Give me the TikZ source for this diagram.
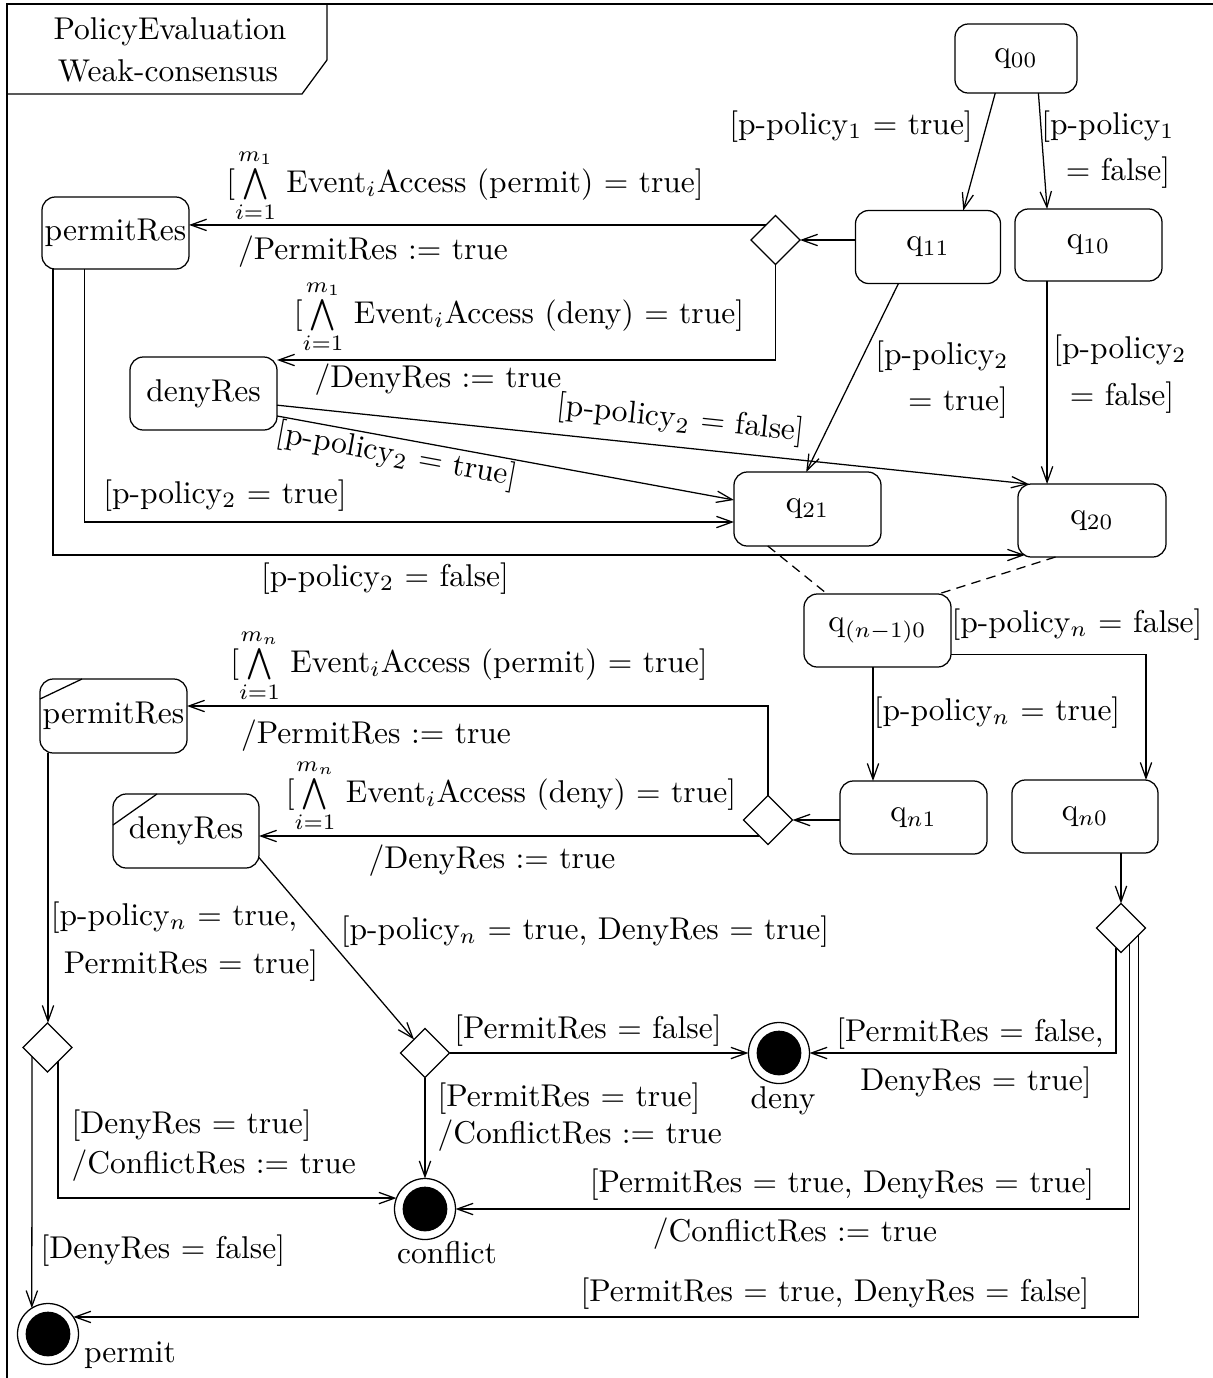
\documentclass[tikz,border=0pt]{standalone}
\usetikzlibrary{arrows.meta,shapes.geometric,calc}
\begin{document}
\begin{tikzpicture}[x=0.3175pt,y=-0.3175pt,
  stbox/.style={draw, rounded corners=4.2pt, inner sep=0pt, outer sep=0pt},
  sz/.style 2 args={minimum width=#1*0.3175pt, minimum height=#2*0.3175pt},
  dia/.style={draw, diamond, inner sep=0pt, outer sep=0pt, minimum size=49*0.3175pt},
  fin/.style={draw, circle, inner sep=0pt, outer sep=0pt, minimum size=61*0.3175pt,
    path picture={\fill[black] (path picture bounding box.center) circle[radius=7.1pt];}},
  arr/.style={-{Straight Barb[length=5pt,width=3.6pt]}},
  lab/.style={anchor=base, inner sep=0pt},
  labw/.style={anchor=base west, inner sep=0pt}]
\useasboundingbox (0,0) rectangle (1213,1378);
% frame
\draw (1213,4) -- (7,4) -- (7,1378);
\draw (327,4) -- (327,60) -- (302,94) -- (7,94);
\node[lab] (t1) at (170,39) {PolicyEvaluation};
\node[lab] (t2) at (168,81) {Weak-consensus};
% states
\node[stbox, sz={122}{69}] (q00) at (1016,58.5) {q$_{00}$};
\node[stbox, sz={145}{73}] (q11) at (928,247) {q$_{11}$};
\node[stbox, sz={147}{72}] (q10) at (1088.5,245) {q$_{10}$};
\node[stbox, sz={147}{72}] (permitResA) at (115.5,233) {permitRes};
\node[stbox, sz={147}{73}] (denyResA) at (203.5,393.5) {denyRes};
\node[stbox, sz={147}{74}] (q21) at (807.5,509) {q$_{21}$};
\node[stbox, sz={148}{73}] (q20) at (1092,520.5) {q$_{20}$};
\node[stbox, sz={147}{73}] (qn10) at (877.5,630.5) {q$_{(n-1)0}$};
\node[stbox, sz={147}{74}] (permitResB) at (113.5,716) {permitRes};
\node[stbox, sz={146}{74}] (denyResB) at (186,831) {denyRes};
\node[stbox, sz={147}{73}] (qn1) at (913.5,817.5) {q$_{n1}$};
\node[stbox, sz={146}{73}] (qn0) at (1085,816.5) {q$_{n0}$};
\draw ($(permitResB.north west)+(0,20)$) -- ($(permitResB.north west)+(42,0)$);
\draw ($(denyResB.north west)+(0,31)$) -- ($(denyResB.north west)+(44,0)$);
% diamonds
\node[dia] (d1) at (775.5,240) {};
\node[dia] (d2) at (768,820) {};
\node[dia] (d3) at (1121,928) {};
\node[dia] (d4) at (47.5,1047.5) {};
\node[dia] (d5) at (425,1053) {};
% final states
\node[fin] (deny) at (779,1053) {};
\node[fin] (conflict) at (425,1209) {};
\node[fin] (permit) at (48,1334) {};
\node[lab] (l24) at (783,1108) {deny};
\node[lab] (l27) at (447,1263) {conflict};
\node[lab] (l30) at (130,1362) {permit};
% connectors
\draw[arr] (q00.-121) -- (q11.46);
\draw[arr] (q00.-57) -- (q10.139);
\draw[arr] (q11.west |- d1.east) -- (d1.east);
\draw[arr] (d1.122) -- (d1.122 -| permitResA.east);
\draw[arr] (d1.south) |- ($(denyResA.north east)+(0,3)$);
\draw[arr] (q11.-129) -- (q21.92);
\draw[arr] (q10.-139) -- (q10.-139 |- q20.north);
\draw[arr] (denyResA.-9) -- (q20.150);
\draw[arr] (denyResA.-17) -- (q21.173);
\coordinate (pa1) at ($(permitResA.south)+(-31,0)$);
\draw[arr] (pa1) |- ($(q21.west)+(0,13)$);
\coordinate (pa2) at ($(permitResA.south)+(-62.5,0)$);
\draw[arr] (pa2) |- ($(q20.south west)+(7,-2)$);
\draw[dash pattern=on 3pt off 2pt] (q21.-137) -- (qn10.144);
\draw[dash pattern=on 3pt off 2pt] (q20.-135) -- (qn10.31);
\coordinate (c1) at ($(qn10.south)+(-4.5,0)$);
\draw[arr] (c1) -- (c1 |- qn1.north);
\draw[arr] ($(qn10.east)+(0,24)$) -| ($(qn0.north)+(61,0)$);
\draw[arr] (qn1.west |- d2.east) -- (d2.east);
\draw[arr] (d2.north) |- ($(permitResB.east)+(0,-10)$);
\draw[arr] (d2.-118) -- (d2.-118 -| denyResB.east);
\draw[arr] (d3.north |- qn0.south) -- (d3.north);
\coordinate (pb) at ($(permitResB.south)+(-65.5,0)$);
\draw[arr] (pb) -- (pb |- d4.north);
\draw[arr] (denyResB.-20) -- (d5.129);
\draw[arr] (d5.east) -- (deny.west);
\draw[arr] (d5.south) -- (conflict.north);
\draw[arr] (d3.-104) |- (deny.east);
\draw[arr] (d3.-61) |- (conflict.east);
\draw[arr] (d3.-21) |- (permit.34);
\draw[arr] (d4.-53) |- (conflict.159);
\draw[arr] (d4.-150) -- (permit.122);
% labels
\node[lab] (l1) at (851,134) {[p-policy$_1$ $=$ true]};
\node[lab] (l2a) at (1108,134) {[p-policy$_1$};
\node[lab] (l2b) at (1118,180) {$=$ false]};
\node[lab] (l3) at (465,192) {[$\bigwedge\limits_{i=1}^{m_1}$ Event$_i$Access (permit) $=$ true]};
\node[lab] (l4) at (373,259) {/PermitRes $:=$ true};
\node[lab] (l5) at (519,323) {[$\bigwedge\limits_{i=1}^{m_1}$ Event$_i$Access (deny) $=$ true]};
\node[lab] (l6) at (438,387) {/DenyRes $:=$ true};
\node[lab] (l7a) at (942,364) {[p-policy$_2$};
\node[lab] (l7b) at (958,410) {$=$ true]};
\node[lab] (l8a) at (1120,358) {[p-policy$_2$};
\node[lab] (l8b) at (1122,405) {$=$ false]};
\node[inner sep=0pt, rotate=-6] (l9) at (681,420) {[p-policy$_2$ $=$ false]};
\node[inner sep=0pt, rotate=-10.4] (l10) at (397,456) {[p-policy$_2$ $=$ true]};
\node[lab] (l11) at (225,503) {[p-policy$_2$ $=$ true]};
\node[lab] (l12) at (385,586) {[p-policy$_2$ $=$ false]};
\node[lab] (l13) at (1077,632) {[p-policy$_n$ $=$ false]};
\node[lab] (l14) at (997,720) {[p-policy$_n$ $=$ true]};
\node[lab] (l15) at (469,672) {[$\bigwedge\limits_{i=1}^{m_n}$ Event$_i$Access (permit) $=$ true]};
\node[lab] (l16) at (376,743) {/PermitRes $:=$ true};
\node[lab] (l17) at (511,802) {[$\bigwedge\limits_{i=1}^{m_n}$ Event$_i$Access (deny) $=$ true]};
\node[lab] (l18) at (492,868) {/DenyRes $:=$ true};
\node[lab] (l19a) at (174,925) {[p-policy$_n$ $=$ true,};
\node[lab] (l19b) at (191,973) {PermitRes $=$ true]};
\node[lab] (l20) at (585,939) {[p-policy$_n$ $=$ true, DenyRes $=$ true]};
\node[lab] (l21) at (588,1038) {[PermitRes $=$ false]};
\node[lab] (l22a) at (970,1041) {[PermitRes $=$ false,};
\node[lab] (l22b) at (976,1090) {DenyRes $=$ true]};
\node[labw] (l23a) at (437,1106) {[PermitRes $=$ true]};
\node[labw] (l23b) at (437,1143) {/ConflictRes $:=$ true};
\node[lab] (l25a) at (842,1192) {[PermitRes $=$ true, DenyRes $=$ true]};
\node[lab] (l25b) at (795,1241) {/ConflictRes $:=$ true};
\node[labw] (l26a) at (71,1133) {[DenyRes $=$ true]};
\node[labw] (l26b) at (71,1173) {/ConflictRes $:=$ true};
\node[labw] (l28) at (40,1258) {[DenyRes $=$ false]};
\node[lab] (l29) at (835,1301) {[PermitRes $=$ true, DenyRes $=$ false]};
\end{tikzpicture}
\end{document}
